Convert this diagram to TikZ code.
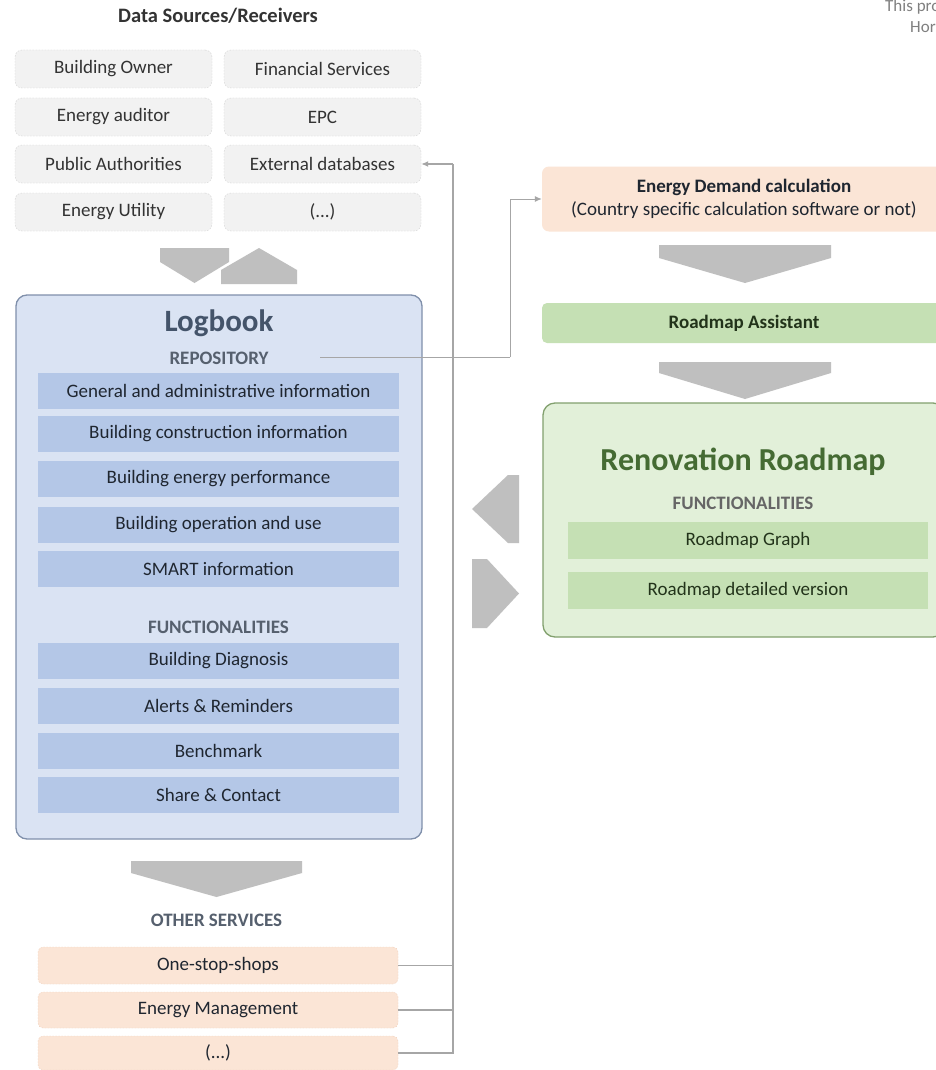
\documentclass[tikz,border=0pt]{standalone}
\usepackage{fontspec}
\setmainfont{Carlito}
\usetikzlibrary{arrows.meta}
\definecolor{srcfill}{HTML}{F2F2F2}
\definecolor{srcline}{HTML}{D2D2D2}
\definecolor{srctext}{HTML}{333333}
\definecolor{logfill}{HTML}{DAE3F3}
\definecolor{logline}{HTML}{8090AB}
\definecolor{barblue}{HTML}{B4C7E7}
\definecolor{headblue}{HTML}{44546A}
\definecolor{subgrey}{HTML}{56606E}
\definecolor{darktext}{HTML}{1F2630}
\definecolor{peach}{HTML}{FBE5D6}
\definecolor{peachline}{HTML}{F1D2BE}
\definecolor{greenbar}{HTML}{C5E0B4}
\definecolor{greenfill}{HTML}{E2F0D9}
\definecolor{greenline}{HTML}{82A06E}
\definecolor{greenhead}{HTML}{456B33}
\definecolor{greentext}{HTML}{22331A}
\definecolor{chev}{HTML}{BFBFBF}
\definecolor{connline}{HTML}{A6A6A6}
\tikzset{
  txt/.style={font=\fontsize{19}{23.5}\selectfont},
  srcbox/.style={txt, text=srctext, fill=srcfill, draw=srcline, dash pattern=on 1.5pt off 1.5pt,
    rounded corners=7pt, minimum width=197, minimum height=38, inner sep=0pt},
  bluebar/.style={txt, text=darktext, fill=barblue, minimum width=361, minimum height=36, inner sep=0pt},
  peachbar/.style={txt, text=darktext, fill=peach, draw=peachline, dash pattern=on 1.5pt off 1.5pt,
    rounded corners=5pt, minimum width=360, inner sep=0pt},
  greenbarst/.style={txt, text=greentext, fill=greenbar, minimum width=360, minimum height=37, inner sep=0pt},
  subhead/.style={font=\bfseries\fontsize{19}{23}\selectfont, text=subgrey, inner sep=0pt},
  chevron/.style={fill=chev, draw=none},
  conn/.style={draw=connline, line width=1.2pt},
  tip/.style={-{Latex[length=7pt,width=6pt]}}
}
\begin{document}
\begin{tikzpicture}[x=1pt,y=-1pt]
\useasboundingbox (0,0) rectangle (936,1070);
\clip (0,0) rectangle (936,1070);
\fill[white] (0,0) rectangle (936,1070);

% corner text
\node[anchor=base west, inner sep=0pt, text=gray, font=\fontsize{17}{20}\selectfont] (note1) at (885,12) {This pro};
\node[anchor=base west, inner sep=0pt, text=gray, font=\fontsize{17}{20}\selectfont] (note2) at (910,33) {Hor};

% title
\node[font=\bfseries\fontsize{20.5}{24}\selectfont, text=black!80] (title) at (218,16) {Data Sources/Receivers};

% sources
\node[srcbox] (bo)  at (113.5,69)  {Building Owner};
\node[srcbox] (fs)  at (322.5,69)  {Financial Services};
\node[srcbox] (ea)  at (113.5,117) {Energy auditor};
\node[srcbox] (epc) at (322.5,117) {EPC};
\node[srcbox] (pa)  at (113.5,164) {Public Authorities};
\node[srcbox] (ext) at (322.5,164) {External databases};
\node[srcbox] (eu)  at (113.5,212) {Energy Utility};
\node[srcbox] (dots1) at (322.5,212) {(...)};

% chevrons under sources
\fill[chevron] (160,248) -- (229,248) -- (229,262) -- (194.5,283) -- (160,262) -- cycle;
\fill[chevron] (221,284) -- (297,284) -- (297,270) -- (259,248) -- (221,270) -- cycle;

% logbook
\node[fill=logfill, draw=logline, line width=1.3pt, rounded corners=11pt,
      minimum width=406, minimum height=544, inner sep=0pt] (log) at (219,567) {};
\node[font=\bfseries\fontsize{31}{36}\selectfont, text=headblue, inner sep=0pt] (logt) at (219,323) {Logbook};
\node[subhead] (repo) at (219,358) {REPOSITORY};
\node[bluebar] (r1) at (218.5,390.5) {General and administrative information};
\node[bluebar] (r2) at (218.5,434)   {Building construction information};
\node[bluebar] (r3) at (218.5,479)   {Building energy performance};
\node[bluebar] (r4) at (218.5,524.5) {Building operation and use};
\node[bluebar] (r5) at (218.5,569)   {SMART information};
\node[subhead] (func) at (218.5,627) {FUNCTIONALITIES};
\node[bluebar] (f1) at (218.5,660.5) {Building Diagnosis};
\node[bluebar] (f2) at (218.5,705.5) {Alerts \& Reminders};
\node[bluebar] (f3) at (218.5,751)   {Benchmark};
\node[bluebar] (f4) at (218.5,795)   {Share \& Contact};

% chevron under logbook
\fill[chevron] (131,861) -- (302,861) -- (302,873) -- (216.5,897) -- (131,873) -- cycle;
\node[subhead] (other) at (216.5,920) {OTHER SERVICES};
\node[peachbar, minimum height=37] (oss) at (218,965.5) {One-stop-shops};
\node[peachbar, minimum height=36] (em)  at (218,1010)  {Energy Management};
\node[peachbar, minimum height=34] (dots2) at (218,1053) {(...)};

% connectors on the left
\coordinate (jt) at (453,164);
\draw[conn] (dots2.east) -| (jt);
\draw[conn] (oss.east) -- (oss.east -| jt);
\draw[conn] (em.east) -- (em.east -| jt);
\draw[conn, tip] (jt) -- (ext.east);

% right column
\node[txt, fill=peach, rounded corners=7pt, minimum width=404, minimum height=65, inner sep=0pt,
      align=center, text=darktext] (ed) at (744,199)
  {\textbf{Energy Demand calculation}\\(Country specific calculation software or not)};
\fill[chevron] (659,245) -- (831,245) -- (831,258) -- (745,283) -- (659,258) -- cycle;
\node[txt, font=\bfseries\fontsize{19}{23}\selectfont, text=greentext, fill=greenbar, rounded corners=5pt,
      minimum width=404, minimum height=40, inner sep=0pt] (ra) at (744,323) {Roadmap Assistant};
\fill[chevron] (659,362) -- (831,362) -- (831,373) -- (745,399) -- (659,373) -- cycle;

\node[fill=greenfill, draw=greenline, line width=1.3pt, rounded corners=12pt,
      minimum width=402, minimum height=234, inner sep=0pt] (rr) at (744,520) {};
\node[font=\bfseries\fontsize{32}{36}\selectfont, text=greenhead, inner sep=0pt] (rrt) at (743,462) {Renovation Roadmap};
\node[subhead, text=black!60] (rfunc) at (743,503) {FUNCTIONALITIES};
\node[greenbarst] (g1) at (748,540.5) {Roadmap Graph};
\node[greenbarst] (g2) at (748,590.5) {Roadmap detailed version};

% side chevrons
\fill[chevron] (519,475) -- (519,543) -- (508,543) -- (472,509) -- (508,475) -- cycle;
\fill[chevron] (472,559) -- (487,559) -- (519,593.5) -- (487,628) -- (472,628) -- cycle;

% repository to energy demand
\coordinate (rs) at (320,357);
\coordinate (rb) at (510,357);
\draw[conn, line width=1pt] (rs) -- (rb);
\draw[conn, line width=1pt, tip] (rb) |- (ed.west);
\end{tikzpicture}
\end{document}
